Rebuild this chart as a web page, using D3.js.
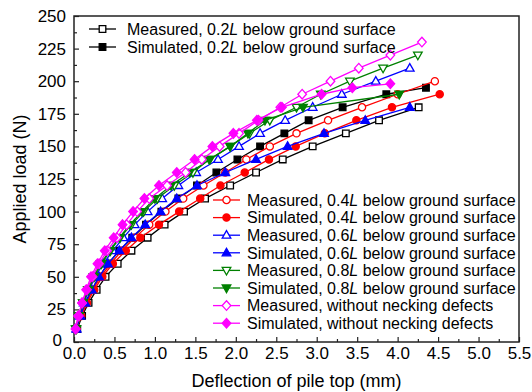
<!DOCTYPE html>
<html><head><meta charset="utf-8">
<script src="https://cdn.jsdelivr.net/npm/d3@7"></script>
<style>body{margin:0;background:#fff}svg{display:block}text{font-family:"Liberation Sans",Arial,sans-serif;fill:#000}</style>
</head><body><svg id="c" width="532" height="392"></svg>
<script>
// ---- data ----
const xTicks = [0,0.5,1,1.5,2,2.5,3,3.5,4,4.5,5,5.5];
const yTicks = [0,25,50,75,100,125,150,175,200,225,250];
const xLabel = "Deflection of pile top (mm)";
const yLabel = "Applied load (N)";

const m02Load = [10,20,30,40,50,60,70,80,90,100,110,120,130,140,150,160,170,180];
const m02Def  = [0.04,0.10,0.18,0.28,0.39,0.54,0.71,0.91,1.12,1.36,1.62,1.93,2.25,2.58,2.95,3.36,3.77,4.26];
const s02Load = [10,20,30,40,50,60,70,80,90,100,110,120,130,140,150,160,170,180,190,195];
const s02Def  = [0.03,0.08,0.14,0.22,0.31,0.42,0.56,0.72,0.89,1.08,1.29,1.52,1.76,2.02,2.30,2.60,2.90,3.32,3.86,4.35];
const m04Load = [10,20,30,40,50,60,70,80,90,100,110,120,130,140,150,160,170,180,190,200];
const m04Def  = [0.03,0.08,0.15,0.23,0.33,0.45,0.59,0.75,0.93,1.13,1.35,1.60,1.87,2.13,2.42,2.75,3.14,3.56,4.00,4.46];
const s04Load = [10,20,30,40,50,60,70,80,90,100,110,120,130,140,150,160,170,180,190];
const s04Def  = [0.03,0.09,0.16,0.25,0.35,0.48,0.64,0.82,1.05,1.30,1.56,1.81,2.11,2.41,2.74,3.10,3.49,3.93,4.52];
const m06Load = [10,20,30,40,50,60,70,80,90,100,110,120,130,140,150,160,170,180,190,200,210];
const m06Def  = [0.03,0.07,0.12,0.19,0.26,0.36,0.48,0.61,0.75,0.91,1.09,1.29,1.51,1.78,2.04,2.30,2.61,2.95,3.31,3.73,4.15];
const s06Load = [10,20,30,40,50,60,70,80,90,100,110,120,130,140,150,160,170,180];
const s06Def  = [0.03,0.08,0.14,0.22,0.31,0.42,0.56,0.71,0.88,1.07,1.27,1.52,1.87,2.25,2.64,3.09,3.60,4.15];
const m08Load = [10,20,30,40,50,60,70,80,90,100,110,120,130,140,150,160,170,180,190,200,210,220];
const m08Def  = [0.03,0.06,0.11,0.18,0.25,0.34,0.45,0.57,0.71,0.86,1.03,1.24,1.47,1.67,1.93,2.17,2.42,2.75,3.05,3.41,3.82,4.25];
const s08Load = [10,20,30,40,50,60,70,80,90,100,110,120,130,140,150,160,170,180,190];
const s08Def  = [0.02,0.06,0.11,0.17,0.24,0.33,0.44,0.56,0.69,0.84,1.00,1.20,1.43,1.68,1.93,2.15,2.36,2.83,4.02];
const m00Load = [10,20,30,40,50,60,70,80,90,100,110,120,130,140,150,160,170,180,190,200,210,220,230];
const m00Def  = [0.02,0.06,0.10,0.16,0.23,0.31,0.41,0.53,0.65,0.78,0.93,1.15,1.38,1.58,1.80,2.04,2.28,2.55,2.82,3.17,3.52,3.91,4.30];
const s00Load = [10,20,30,40,50,60,70,80,90,100,110,120,130,140,150,160,170,180,190,195,198];
const s00Def  = [0.02,0.05,0.10,0.15,0.21,0.29,0.38,0.49,0.60,0.73,0.87,1.05,1.27,1.49,1.71,1.97,2.26,2.57,3.06,3.44,3.91];

const seriesNames = [
 "Measured, 0.2|L| below ground surface","Simulated, 0.2|L| below ground surface",
 "Measured, 0.4|L| below ground surface","Simulated, 0.4|L| below ground surface",
 "Measured, 0.6|L| below ground surface","Simulated, 0.6|L| below ground surface",
 "Measured, 0.8|L| below ground surface","Simulated, 0.8|L| below ground surface",
 "Measured, without necking defects","Simulated, without necking defects"];
const seriesColors = ["#000000","#000000","#ff0000","#ff0000","#0000ff","#0000ff","#008000","#008000","#ff00ff","#ff00ff"];
const seriesShapes = ["square","square","circle","circle","tri","tri","tridown","tridown","diamond","diamond"];
const seriesFilled = [false,true,false,true,false,true,false,true,false,true];
const seriesLoads = [m02Load,s02Load,m04Load,s04Load,m06Load,s06Load,m08Load,s08Load,m00Load,s00Load];
const seriesDefs  = [m02Def,s02Def,m04Def,s04Def,m06Def,s06Def,m08Def,s08Def,m00Def,s00Def];

// ---- drawing ----
const svg = d3.select("#c");
const L=74,R=519,T=16,B=342;
const x = d3.scaleLinear().domain([0,5.5]).range([L,R]);
const y = d3.scaleLinear().domain([0,250]).range([B,T]);

function shapePath(s){
  switch(s){
    case "square": return "M-3.3,-3.3H3.3V3.3H-3.3Z";
    case "circle": return "M-3.6,0A3.6,3.6 0 1,0 3.6,0A3.6,3.6 0 1,0 -3.6,0Z";
    case "tri": return "M0,-4.6L4.3,3L-4.3,3Z";
    case "tridown": return "M0,4.6L4.3,-3L-4.3,-3Z";
    case "diamond": return "M0,-4.8L4.3,0L0,4.8L-4.3,0Z";
  }
}

// axes
const minorX = d3.range(0,5.51,0.25).filter(v=>Math.abs(v*2-Math.round(v*2))>1e-6);
const minorY = d3.range(12.5,250,25);
svg.append("g").attr("transform",`translate(0,${B})`)
  .call(d3.axisBottom(x).tickValues(xTicks).tickFormat(d3.format(".1f")).tickSize(-5).tickPadding(5));
svg.append("g").attr("transform",`translate(0,${B})`)
  .call(d3.axisBottom(x).tickValues(minorX).tickFormat("").tickSize(-3));
const gy = svg.append("g").attr("transform",`translate(${L},0)`)
  .call(d3.axisLeft(y).tickValues(yTicks).tickSize(-5).tickPadding(8));
svg.append("g").attr("transform",`translate(${L},0)`)
  .call(d3.axisLeft(y).tickValues(minorY).tickFormat("").tickSize(-3));
svg.selectAll(".tick text").attr("font-size",17).attr("font-family","Liberation Sans, Arial, sans-serif").attr("fill","#000");
svg.selectAll(".tick line").attr("stroke","#222").attr("stroke-width",1.2);
svg.selectAll(".domain").remove();
// keep the y "0" label clear of the x "0.0" label
gy.selectAll(".tick").filter(d=>d===0).select("text").attr("x",-12).attr("dy","0.2em");
svg.append("rect").attr("x",L).attr("y",T).attr("width",R-L).attr("height",B-T)
  .attr("fill","none").attr("stroke","#222").attr("stroke-width",1.5);

svg.append("text").attr("x",(L+R)/2).attr("y",387).attr("text-anchor","middle").attr("font-size",18).text(xLabel);
svg.append("text").attr("transform",`translate(26,${(T+B)/2}) rotate(-90)`).attr("text-anchor","middle").attr("font-size",18).text(yLabel);

// series
const line = d3.line().x(d=>x(d[0])).y(d=>y(d[1]));
seriesNames.forEach((n,i)=>{
  const pts = seriesDefs[i].map((d,j)=>[d,seriesLoads[i][j]]);
  const g = svg.append("g");
  g.append("path").attr("d",line(pts)).attr("fill","none").attr("stroke",seriesColors[i]).attr("stroke-width",1.3);
  g.selectAll("path.m").data(pts).join("path").attr("class","m")
    .attr("transform",d=>`translate(${x(d[0])},${y(d[1])})`)
    .attr("d",shapePath(seriesShapes[i]))
    .attr("fill",seriesFilled[i]?seriesColors[i]:"#fff")
    .attr("stroke",seriesColors[i]).attr("stroke-width",1.3);
});

// legends
function legendItem(i,lx,ly,tx){
  const g = svg.append("g");
  g.append("line").attr("x1",lx).attr("x2",lx+27).attr("y1",ly).attr("y2",ly).attr("stroke",seriesColors[i]).attr("stroke-width",1.3);
  g.append("path").attr("transform",`translate(${lx+13.5},${ly})`).attr("d",shapePath(seriesShapes[i]))
    .attr("fill",seriesFilled[i]?seriesColors[i]:"#fff").attr("stroke",seriesColors[i]).attr("stroke-width",1.3);
  const t = g.append("text").attr("x",tx).attr("y",ly).attr("dy","0.36em").attr("font-size",16);
  seriesNames[i].split("|").forEach((p,k)=>{
    t.append("tspan").attr("font-style",k===1?"italic":"normal").text(p);
  });
}
legendItem(0,89,29,127);
legendItem(1,89,47,127);
for(let i=2;i<10;i++) legendItem(i,213,200+(i-2)*17.6,247);
</script></body></html>
